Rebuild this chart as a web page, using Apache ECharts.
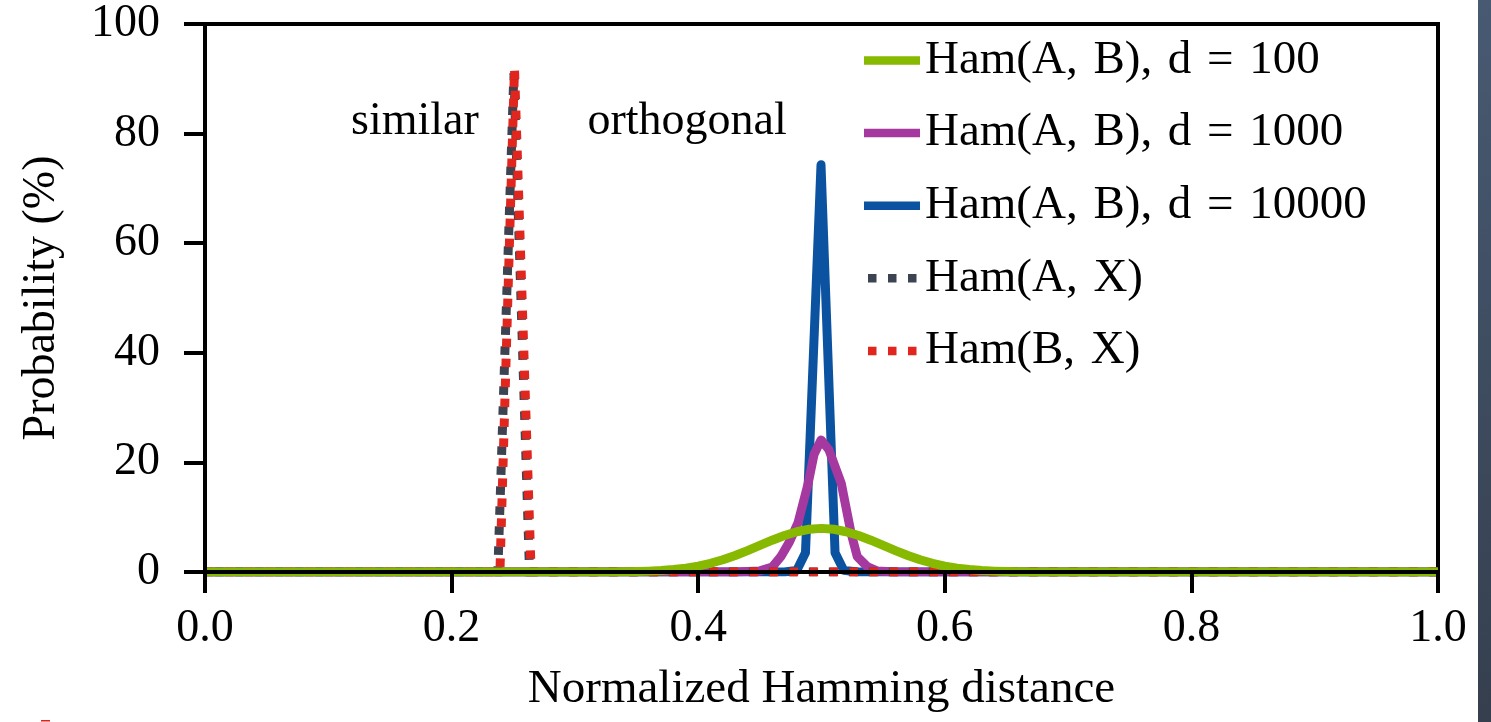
<!DOCTYPE html>
<html>
<head>
<meta charset="utf-8">
<title>Normalized Hamming distance distributions</title>
<script src="https://cdn.jsdelivr.net/npm/echarts@6/dist/echarts.min.js"></script>
<style>
  html, body { margin: 0; padding: 0; background: #ffffff; }
  #chart { width: 1491px; height: 722px; }
</style>
</head>
<body>
<div id="chart"></div>
<script>
// Series names (legend order)
const seriesNames = [
  'Ham(A,\u2004B),\u2004d\u2004=\u2004100',
  'Ham(A,\u2004B),\u2004d\u2004=\u20041000',
  'Ham(A,\u2004B),\u2004d\u2004=\u200410000',
  'Ham(A,\u2004X)',
  'Ham(B,\u2004X)'
];

// Ham(A, B), d = 100
const d100X = [0, 0.30, 0.31, 0.32, 0.33, 0.34, 0.35, 0.36, 0.37, 0.38, 0.39,
  0.40, 0.41, 0.42, 0.43, 0.44, 0.45, 0.46, 0.47, 0.48, 0.49, 0.50,
  0.51, 0.52, 0.53, 0.54, 0.55, 0.56, 0.57, 0.58, 0.59, 0.60,
  0.61, 0.62, 0.63, 0.64, 0.65, 0.66, 0.67, 0.68, 0.69, 0.70, 1];
const d100Y = [0, 0.00, 0.01, 0.01, 0.02, 0.05, 0.09, 0.16, 0.27, 0.45, 0.71,
  1.08, 1.59, 2.23, 3.01, 3.90, 4.85, 5.80, 6.66, 7.35, 7.80, 7.96,
  7.80, 7.35, 6.66, 5.80, 4.85, 3.90, 3.01, 2.23, 1.59, 1.08,
  0.71, 0.45, 0.27, 0.16, 0.09, 0.05, 0.02, 0.01, 0.01, 0.00, 0];

// Ham(A, B), d = 1000
const d1000X = [0, 0.43, 0.45, 0.46, 0.467, 0.474, 0.481, 0.489, 0.494, 0.4996,
  0.506, 0.516, 0.524, 0.529, 0.537, 0.545, 0.56, 1];
const d1000Y = [0, 0, 0.2, 0.9, 2.8, 5.5, 9.0, 16.0, 21.5, 24.1,
  22.3, 16.2, 7.1, 2.8, 1.0, 0.2, 0, 0];

// Ham(A, B), d = 10000
const d10000X = [0, 0.47, 0.48, 0.487, 0.4996, 0.511, 0.518, 0.53, 1];
const d10000Y = [0, 0, 0.3, 3.5, 74.3, 3.5, 0.3, 0, 0];

// Ham(A, X)
const axX = [0, 0.2375, 0.2505, 0.2632, 1];
const axY = [0, 0, 91.0, 0, 0];

// Ham(B, X)
const bxX = [0, 0.2392, 0.2510, 0.2645, 1];
const bxY = [0, 0, 91.8, 0, 0];

// In-plot annotations
const noteText = ['similar', 'orthogonal'];
const noteX = [0.1703, 0.391];
const noteY = [82.2, 82.2];

// Axis ticks
const xTicks = { min: 0, max: 1, step: 0.2 };
const yTicks = { min: 0, max: 100, step: 20 };

const FONT = '"Liberation Serif", "Times New Roman", Times, serif';
const colors = ['#86b900', '#a5399f', '#0b53a0', '#3c4451', '#e2261d'];
const LINE_W = 9;

// legend glyphs: a solid bar, or three square dots (the bare moves pin the box to 56 x 8.5)
const SOLID_ICON = 'rect';
const DOTTED_ICON = 'path://M0,0 M56,8.5 M4,0h8.5v8.5h-8.5z M24,0h8.5v8.5h-8.5z M44,0h8.5v8.5h-8.5z';

const zip = (xs, ys) => xs.map((x, i) => [x, ys[i]]);

function lineSeries(idx, xs, ys, dotted, z) {
  return {
    name: seriesNames[idx],
    type: 'line',
    data: zip(xs, ys),
    symbol: 'none',
    silent: true,
    z: z,
    lineStyle: dotted
      ? { color: colors[idx], width: LINE_W, type: [8.5, 11.5], dashOffset: idx === 3 ? 10 : 0, cap: 'butt', join: 'miter' }
      : { color: colors[idx], width: LINE_W, cap: 'butt', join: 'round' },
    itemStyle: { color: colors[idx] },
    animation: false
  };
}

const chart = echarts.init(document.getElementById('chart'), null, { renderer: 'canvas' });

const axisCommon = {
  axisLine: { show: true, lineStyle: { color: '#000', width: 4 } },
  axisTick: { show: true, inside: false, length: 21, lineStyle: { color: '#000', width: 4 } },
  splitLine: { show: false },
  z: 10
};

chart.setOption({
  backgroundColor: '#ffffff',
  animation: false,
  grid: {
    left: 205, right: 53, top: 24, bottom: 150,
    show: true, borderColor: '#000', borderWidth: 4, backgroundColor: 'transparent'
  },
  legend: {
    data: seriesNames.map((n, i) => ({ name: n, icon: i < 3 ? SOLID_ICON : DOTTED_ICON })),
    orient: 'vertical',
    left: 859, top: 32,
    itemWidth: 56, itemHeight: 8.5, itemGap: 25.6,
    selectedMode: false,
    textStyle: { fontFamily: FONT, fontSize: 47, color: '#000', lineHeight: 46 }
  },
  xAxis: Object.assign({
    type: 'value',
    min: xTicks.min, max: xTicks.max, interval: xTicks.step,
    name: 'Normalized Hamming distance',
    nameLocation: 'middle',
    nameGap: 94,
    nameTextStyle: { fontFamily: FONT, fontSize: 47, color: '#000' },
    axisLabel: { fontFamily: FONT, fontSize: 46, color: '#000', margin: 34,
      formatter: v => v.toFixed(1) }
  }, axisCommon),
  yAxis: Object.assign({
    type: 'value',
    min: yTicks.min, max: yTicks.max, interval: yTicks.step,
    name: 'Probability (%)',
    nameLocation: 'middle',
    nameGap: 140,
    nameTextStyle: { fontFamily: FONT, fontSize: 46, color: '#000' },
    axisLabel: { fontFamily: FONT, fontSize: 46, color: '#000', margin: 45 }
  }, axisCommon),
  series: [
    lineSeries(2, d10000X, d10000Y, false, 2),
    lineSeries(1, d1000X, d1000Y, false, 3),
    lineSeries(3, axX, axY, true, 4),
    lineSeries(4, bxX, bxY, true, 5),
    lineSeries(0, d100X, d100Y, false, 6),
    {
      type: 'scatter',
      name: 'notes',
      silent: true,
      symbolSize: 0,
      z: 7,
      itemStyle: { color: '#000', opacity: 1 },
      data: noteText.map((t, i) => ({ name: t, value: [noteX[i], noteY[i]] })),
      label: {
        show: true, position: 'inside', formatter: '{b}',
        fontFamily: FONT, fontSize: 46, color: '#000',
        textBorderWidth: 0, opacity: 1
      }
    }
  ],
  graphic: [
    {
      type: 'rect', right: 0, top: 0, z: 100,
      shape: { width: 13, height: 722 },
      style: {
        fill: new echarts.graphic.LinearGradient(0, 0, 0, 1, [
          { offset: 0, color: '#485a72' },
          { offset: 1, color: '#353f4e' }
        ])
      }
    },
    {
      type: 'rect', left: 41, top: 720, z: 100,
      shape: { width: 9, height: 1.5 },
      style: { fill: '#e0201a' }
    }
  ]
});
</script>
</body>
</html>
